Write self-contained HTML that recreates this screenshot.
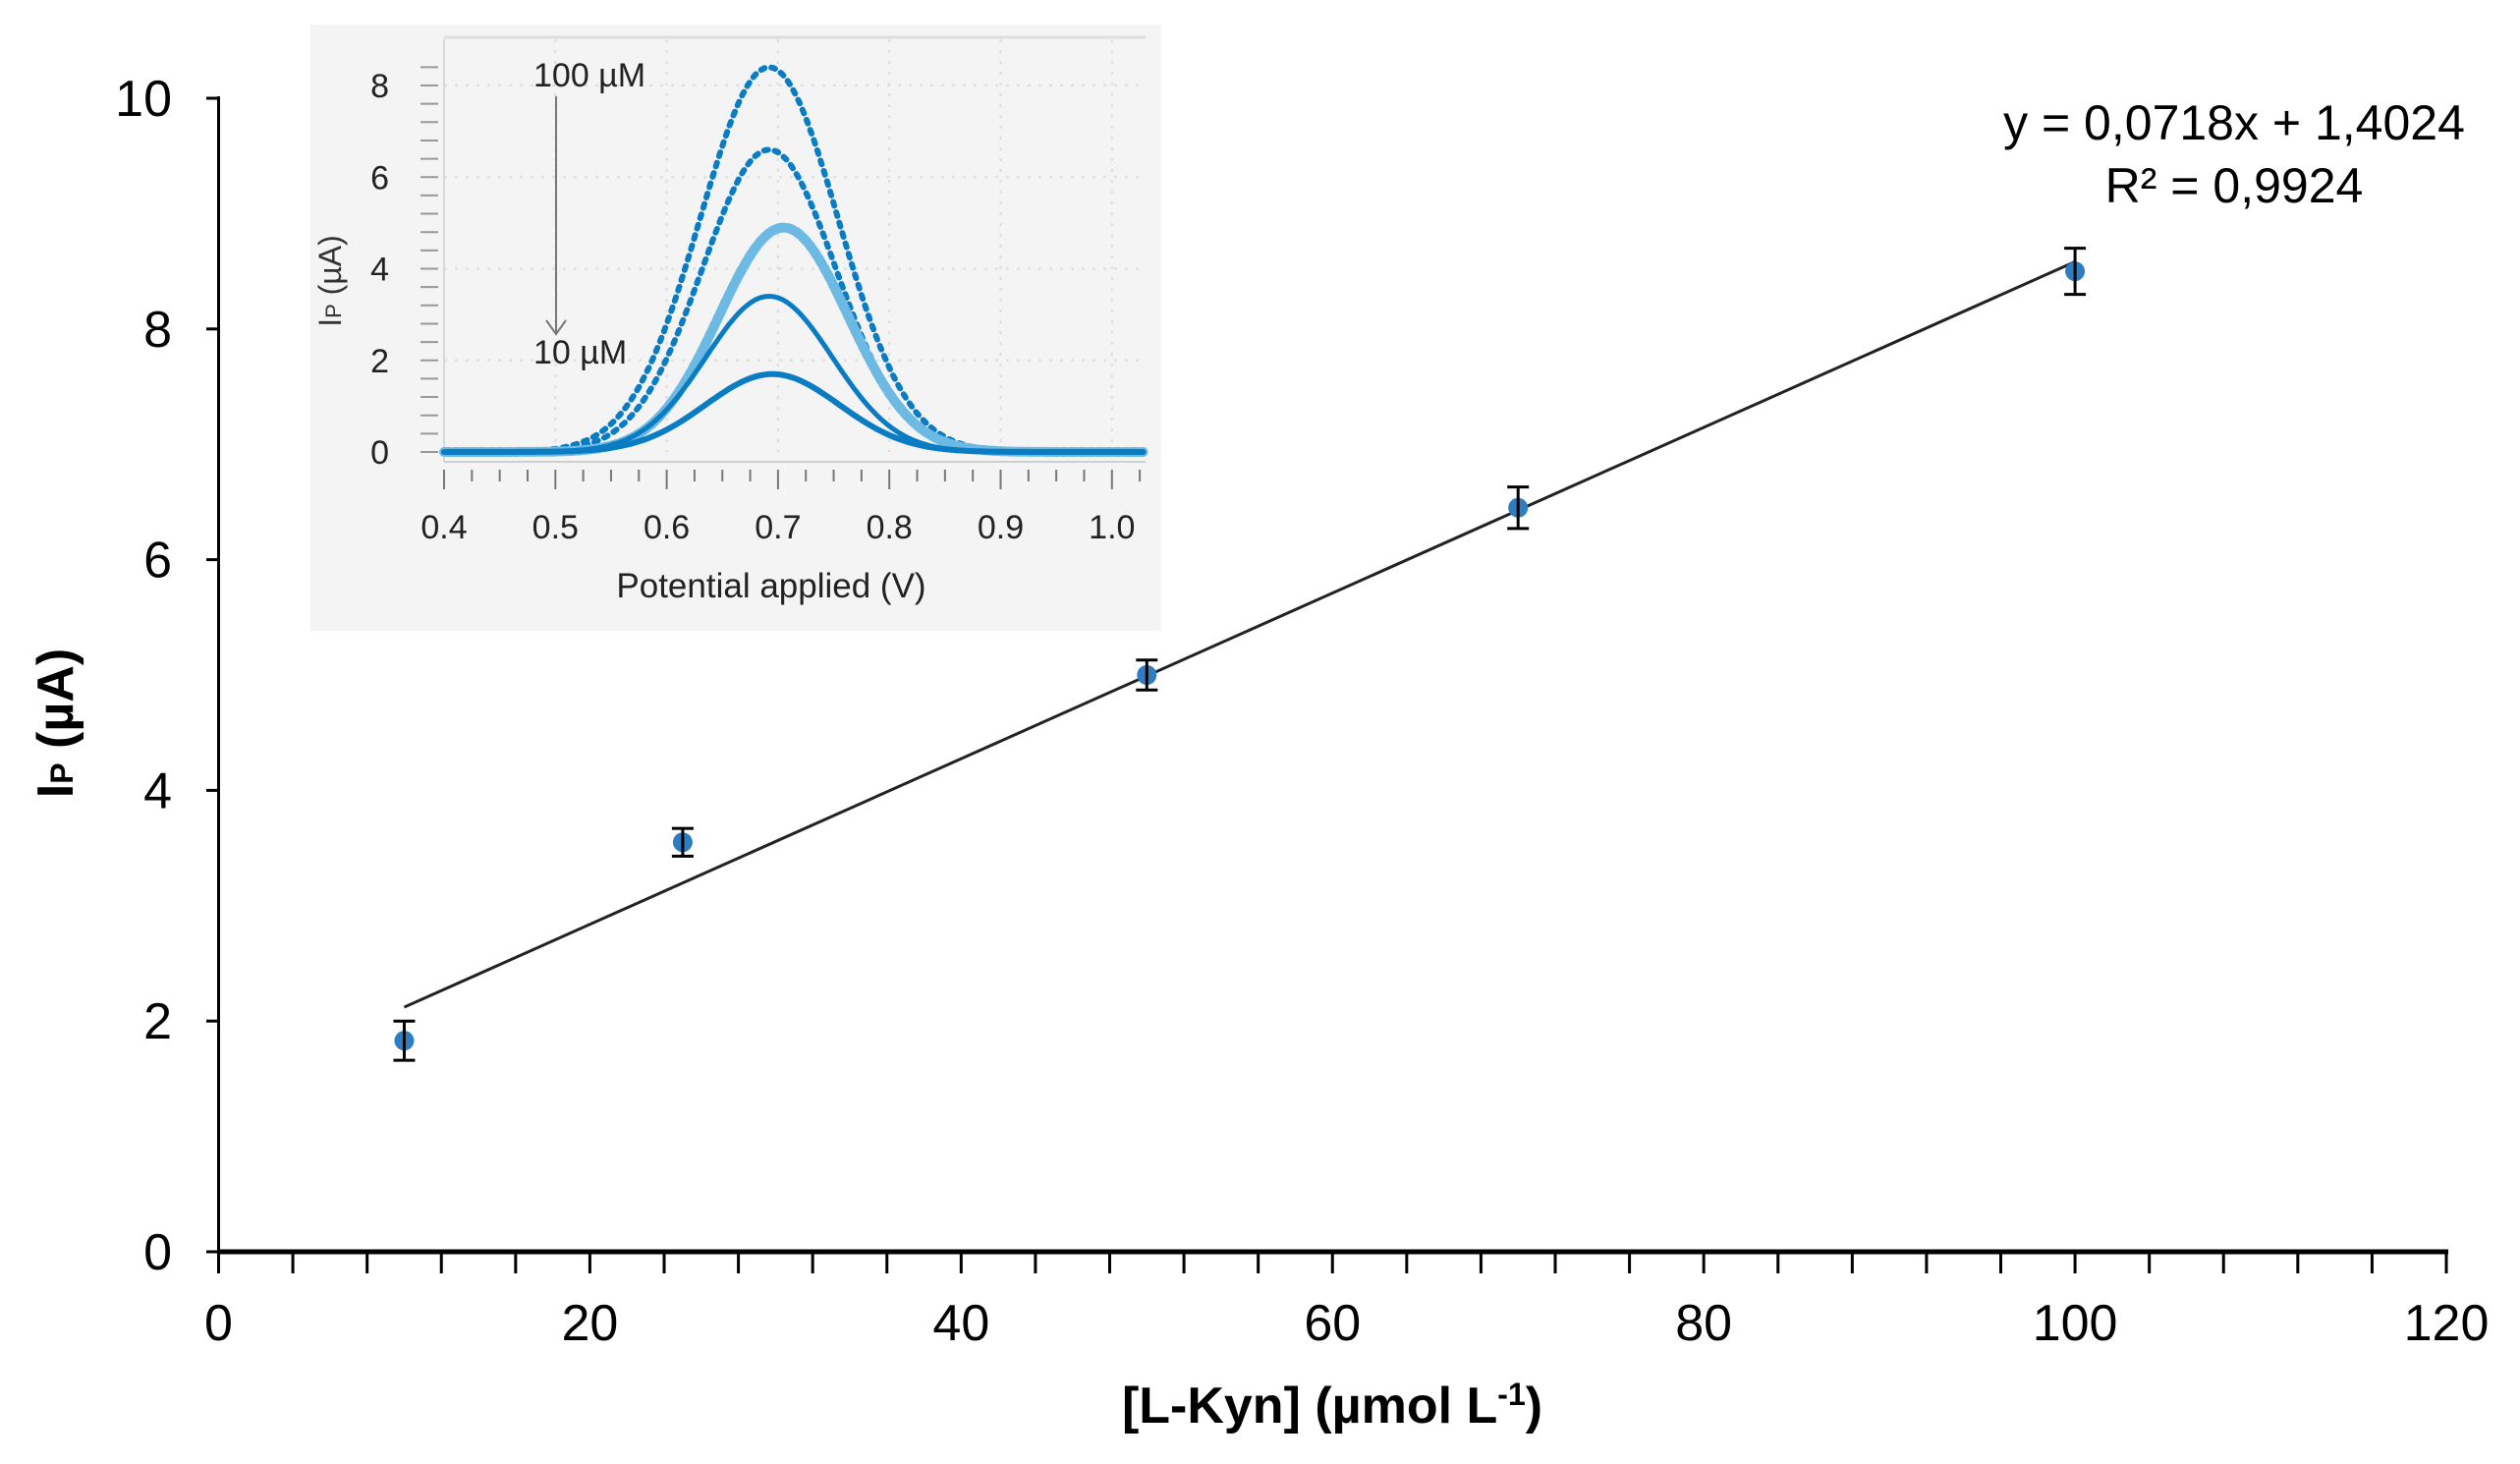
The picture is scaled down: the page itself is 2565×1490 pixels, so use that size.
<!DOCTYPE html>
<html><head><meta charset="utf-8"><style>
html,body{margin:0;padding:0;background:#fff;}
svg{display:block;font-family:"Liberation Sans",Arial,sans-serif;}
</style></head><body>
<svg id="chart" width="2565" height="1490" viewBox="0 0 2565 1490" xmlns="http://www.w3.org/2000/svg">
<g id="main"></g>
<g id="inset"></g>
</svg>
<script>
// main chart data
const concentrations = [10, 25, 50, 70, 100];
const currents = [1.83, 3.55, 5.0, 6.45, 8.5];
const errors = [0.17, 0.12, 0.13, 0.18, 0.2];
const slope = 0.0718, intercept = 1.4024;
const xTicks = [0, 20, 40, 60, 80, 100, 120];
const yTicks = [0, 2, 4, 6, 8, 10];
// inset data
const insetPeaks = [8.4, 6.6, 4.9, 3.4, 1.7];
const insetCenters = [0.692, 0.692, 0.705, 0.692, 0.695];
const insetWidths = [0.062, 0.06, 0.058, 0.057, 0.06];
const insetXTicks = [0.4, 0.5, 0.6, 0.7, 0.8, 0.9, 1.0];
const insetYTicks = [0, 2, 4, 6, 8];

const NS = "http://www.w3.org/2000/svg";
function mk(parent, tag, attrs, text) {
  const e = document.createElementNS(NS, tag);
  for (const k in attrs) e.setAttribute(k, attrs[k]);
  if (text !== undefined) e.textContent = text;
  parent.appendChild(e);
  return e;
}
const X = v => 222.5 + (v / 120) * (2490 - 222.5);
const Y = v => 1274 - (v / 10) * (1274 - 100);
const main = document.getElementById('main');

let ax = mk(main, 'line', {x1: 222.5, y1: 1274, x2: 2492, y2: 1274, stroke: '#000', 'stroke-width': 5});


let ay = mk(main, 'line', {x1: 222.5, y1: 98, x2: 222.5, y2: 1276, stroke: '#000', 'stroke-width': 3});


for (let v = 0; v <= 120; v += 4) {
  const t = mk(main, 'line', {x1: X(v), y1: 1274, x2: X(v), y2: 1296, stroke: '#000', 'stroke-width': 3});
  
  
}
xTicks.forEach(v => {
  const t = mk(main, 'text', {x: X(v), y: 1364, 'font-size': 52, 'text-anchor': 'middle', fill: '#000'}, String(v));
  
  
});
yTicks.forEach(v => {
  const tk = mk(main, 'line', {x1: 210, y1: Y(v), x2: 222.5, y2: Y(v), stroke: '#000', 'stroke-width': 3});
  
  
  const t = mk(main, 'text', {x: 175, y: Y(v) + 18, 'font-size': 52, 'text-anchor': 'end', fill: '#000'}, String(v));
  
  
});
let xt = mk(main, 'text', {x: 1356, y: 1448, 'font-size': 52, 'font-weight': 'bold', 'text-anchor': 'middle'});


xt.innerHTML = '[L-Kyn] (µmol L<tspan dy="-18" font-size="32">-1</tspan><tspan dy="18">)</tspan>';
let yt = mk(main, 'text', {x: 0, y: 0, 'font-size': 52, 'font-weight': 'bold', 'text-anchor': 'middle', transform: 'translate(74,736) rotate(-90)'});


yt.innerHTML = 'I<tspan font-size="32">P</tspan> (µA)';

const x0 = concentrations[0], x1 = concentrations[concentrations.length - 1];
let tl = mk(main, 'line', {x1: X(x0), y1: Y(slope * x0 + intercept), x2: X(x1), y2: Y(slope * x1 + intercept), stroke: '#222', 'stroke-width': 3});



concentrations.forEach((c, i) => {
  const g = mk(main, 'g', {});
  
  
  const cx = X(c), top = Y(currents[i] + errors[i]), bot = Y(currents[i] - errors[i]);
  mk(g, 'circle', {cx: cx, cy: Y(currents[i]), r: 10, fill: '#2e7dc0'});
  mk(g, 'line', {x1: cx, y1: top, x2: cx, y2: bot, stroke: '#000', 'stroke-width': 3});
  mk(g, 'line', {x1: cx - 11, y1: top, x2: cx + 11, y2: top, stroke: '#000', 'stroke-width': 3});
  mk(g, 'line', {x1: cx - 11, y1: bot, x2: cx + 11, y2: bot, stroke: '#000', 'stroke-width': 3});
});
let eq = mk(main, 'text', {x: 2274, y: 142, 'font-size': 50, 'text-anchor': 'middle'}, 'y = 0,0718x + 1,4024');


let r2 = mk(main, 'text', {x: 2274, y: 206, 'font-size': 50, 'text-anchor': 'middle'}, 'R² = 0,9924');



const ins = document.getElementById('inset');


mk(ins, 'rect', {x: 316, y: 25, width: 866, height: 617, fill: '#f4f4f4'});
const IX = v => 452 + (v - 0.4) / 0.1 * 113.3;
const IY = v => 460 - v / 8 * 373;
mk(ins, 'line', {x1: 452, y1: 38, x2: 1166, y2: 38, stroke: '#ddd', 'stroke-width': 3});
insetXTicks.forEach(v => {
  if (v > 0.4) mk(ins, 'line', {x1: IX(v), y1: 40, x2: IX(v), y2: 460, stroke: '#ddd', 'stroke-width': 2, 'stroke-dasharray': '3 8'});
  const t = mk(ins, 'text', {x: IX(v), y: 548, 'font-size': 34, 'text-anchor': 'middle', fill: '#222'}, v.toFixed(1));
  
  
});
for (let v = 0.4; v <= 1.03; v += 0.025) {
  const major = Math.abs(v * 10 - Math.round(v * 10)) < 0.01;
  mk(ins, 'line', {x1: IX(v), y1: 478, x2: IX(v), y2: major ? 498 : 490, stroke: '#777', 'stroke-width': 2});
}
mk(ins, 'line', {x1: 452, y1: 470, x2: 1166, y2: 470, stroke: '#aaa', 'stroke-width': 1});
mk(ins, 'line', {x1: 452, y1: 40, x2: 452, y2: 470, stroke: '#bbb', 'stroke-width': 1});
insetYTicks.forEach(v => {
  if (v > 0) mk(ins, 'line', {x1: 452, y1: IY(v), x2: 1166, y2: IY(v), stroke: '#ddd', 'stroke-width': 2, 'stroke-dasharray': '3 8'});
  const t = mk(ins, 'text', {x: 396, y: IY(v) + 12, 'font-size': 34, 'text-anchor': 'end', fill: '#222'}, String(v));
  
  
});
for (let v = 0; v <= 8.8; v += 0.4) mk(ins, 'line', {x1: 428, y1: IY(v), x2: 446, y2: IY(v), stroke: '#999', 'stroke-width': 2});
let ixl = mk(ins, 'text', {x: 785, y: 608, 'font-size': 35, 'text-anchor': 'middle', fill: '#222'}, 'Potential applied (V)');


let iyl = mk(ins, 'text', {x: 0, y: 0, 'font-size': 32, 'text-anchor': 'middle', fill: '#333', transform: 'translate(347,286) rotate(-90)'});


iyl.innerHTML = 'I<tspan font-size="22">P</tspan> (µA)';

const styles = [
  {stroke: '#0a7cc4', w: 6, dash: '4 7'},
  {stroke: '#0a7cc4', w: 6, dash: '4 7'},
  {stroke: '#6cb9e3', w: 10, dash: '6 3'},
  {stroke: '#0a7cc4', w: 5, dash: ''},
  {stroke: '#0a7cc4', w: 6, dash: ''}
];
insetPeaks.forEach((p, i) => {
  let d = '';
  for (let v = 0.4; v <= 1.03; v += 0.004) {
    const y = p * Math.exp(-Math.pow((v - insetCenters[i]) / insetWidths[i], 2) / 2);
    d += (d ? 'L' : 'M') + IX(v).toFixed(1) + ',' + IY(y).toFixed(1);
  }
  const pa = mk(ins, 'path', {d: d, fill: 'none', stroke: styles[i].stroke, 'stroke-width': styles[i].w, 'stroke-dasharray': styles[i].dash, 'stroke-linecap': 'round'});
  
  
});
let arr = mk(ins, 'line', {x1: 566, y1: 98, x2: 566, y2: 338, stroke: '#777', 'stroke-width': 2});


mk(ins, 'path', {d: 'M556,326 L566,340 L576,326', fill: 'none', stroke: '#777', 'stroke-width': 2});
let l1 = mk(ins, 'text', {x: 543, y: 88, 'font-size': 34, fill: '#222'}, '100 µM');


let l2 = mk(ins, 'text', {x: 543, y: 370, 'font-size': 34, fill: '#222'}, '10 µM');


</script>
</body></html>
